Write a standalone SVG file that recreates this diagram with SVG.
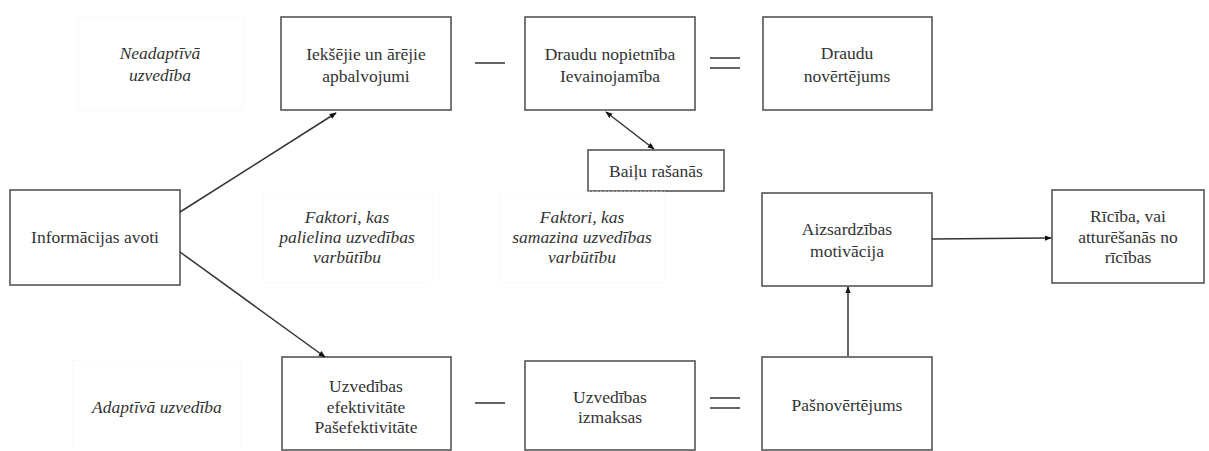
<svg xmlns="http://www.w3.org/2000/svg" width="1209" height="451" viewBox="0 0 1209 451">
<style>
.box{fill:#fff;stroke:#555;stroke-width:1.6}
.faint{fill:#fff;stroke:#f2f2f2;stroke-width:1;stroke-dasharray:2 2}
text{font-family:'Liberation Serif',Tinos,'Times New Roman',Times,'DejaVu Serif',serif;font-size:17.5px;fill:#333;text-anchor:middle}
.it{font-style:italic}
.ln{stroke:#333;stroke-width:1.5;fill:none}
.op{stroke:#555;stroke-width:1.8}
</style>
<defs>
<marker id="ah" viewBox="0 0 10 10" refX="9" refY="5" markerWidth="7" markerHeight="7" orient="auto-start-reverse" markerUnits="userSpaceOnUse">
<path d="M0,1 L10,5 L0,9 z" fill="#111"/>
</marker>
</defs>
<rect width="1209" height="451" fill="#fff"/>

<g id="neadaptiva">
<rect class="faint" x="78" y="17" width="165" height="93"/>
<text class="it" x="160" y="59" font-family="Liberation Serif, serif">Neadaptīvā</text>
<text class="it" x="160" y="81" font-family="Liberation Serif, serif">uzvedība</text>
</g>
<g id="apbalvojumi">
<rect class="box" x="281" y="17" width="170" height="93"/>
<text x="366" y="60">Iekšējie un ārējie</text>
<text x="366" y="82">apbalvojumi</text>
</g>
<g id="draudu-nopietniba">
<rect class="box" x="525" y="17" width="170" height="93"/>
<text x="610" y="60">Draudu nopietnība</text>
<text x="610" y="82">Ievainojamība</text>
</g>
<g id="draudu-novertejums">
<rect class="box" x="763" y="17" width="169" height="93"/>
<text x="847" y="59">Draudu</text>
<text x="847" y="82">novērtējums</text>
</g>
<g id="bailu-rasanas">
<rect class="box" x="588" y="150" width="136" height="41"/>
<text x="656" y="177">Baiļu rašanās</text>
</g>
<g id="informacijas-avoti">
<rect class="box" x="10" y="190" width="170" height="95"/>
<text x="95" y="243">Informācijas avoti</text>
</g>
<g id="faktori-palielina">
<rect class="faint" x="263" y="192" width="169" height="91"/>
<text class="it" x="347" y="223">Faktori, kas</text>
<text class="it" x="347" y="243">palielina uzvedības</text>
<text class="it" x="347" y="263">varbūtību</text>
</g>
<g id="faktori-samazina">
<rect class="faint" x="500" y="192" width="165" height="91"/>
<text class="it" x="582" y="223">Faktori, kas</text>
<text class="it" x="582" y="243">samazina uzvedības</text>
<text class="it" x="582" y="263">varbūtību</text>
</g>
<g id="aizsardzibas-motivacija">
<rect class="box" x="762" y="193" width="170" height="93"/>
<text x="847" y="235">Aizsardzības</text>
<text x="847" y="257">motivācija</text>
</g>
<g id="riciba">
<rect class="box" x="1052" y="190" width="152" height="93"/>
<text x="1128" y="222">Rīcība, vai</text>
<text x="1128" y="243">atturēšanās no</text>
<text x="1128" y="263">rīcības</text>
</g>
<g id="adaptiva">
<rect class="faint" x="73" y="360" width="168" height="95"/>
<text class="it" x="157" y="413">Adaptīvā uzvedība</text>
</g>
<g id="efektivitate">
<rect class="box" x="282" y="357" width="169" height="93"/>
<text x="366" y="392">Uzvedības</text>
<text x="366" y="413">efektivitāte</text>
<text x="366" y="433">Pašefektivitāte</text>
</g>
<g id="izmaksas">
<rect class="box" x="525" y="361" width="170" height="89"/>
<text x="610" y="403">Uzvedības</text>
<text x="610" y="423">izmaksas</text>
</g>
<g id="pasnovertejums">
<rect class="box" x="762" y="357" width="170" height="93"/>
<text x="847" y="411">Pašnovērtējums</text>
</g>

<g id="operators">
<line class="op" x1="475" y1="63" x2="505" y2="63"/>
<line class="op" x1="710" y1="58" x2="740" y2="58"/>
<line class="op" x1="710" y1="68" x2="740" y2="68"/>
<line class="op" x1="475" y1="403" x2="505" y2="403"/>
<line class="op" x1="710" y1="398" x2="740" y2="398"/>
<line class="op" x1="710" y1="408" x2="740" y2="408"/>
</g>

<g id="connectors">
<line class="ln" x1="180" y1="212" x2="336" y2="113" marker-end="url(#ah)"/>
<line class="ln" x1="180" y1="252" x2="325" y2="357" marker-end="url(#ah)"/>
<line class="ln" x1="606" y1="112" x2="654" y2="149" marker-start="url(#ah)" marker-end="url(#ah)"/>
<line class="ln" x1="848" y1="356" x2="848" y2="287" marker-end="url(#ah)"/>
<line class="ln" x1="932" y1="239" x2="1051" y2="238" marker-end="url(#ah)"/>
</g>
</svg>
